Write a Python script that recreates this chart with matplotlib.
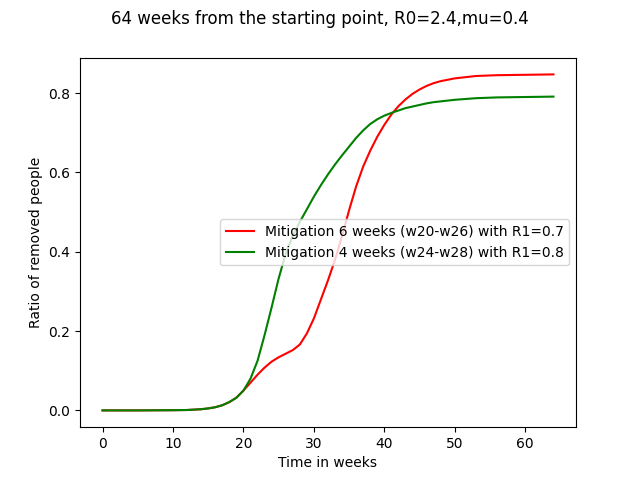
import matplotlib
matplotlib.use('Agg')
import matplotlib.pyplot as plt

weeks = [0, 5, 10, 12, 14, 15, 16, 17, 18, 19, 20, 21, 22, 23, 24, 25, 26, 27, 28, 29,
         30, 31, 32, 33, 34, 35, 36, 37, 38, 39, 40, 41, 42, 43, 44, 45, 46, 47, 48,
         50, 53, 56, 60, 64]

# mitigation w20-w26, R1=0.7
removed_6w = [0.0, 0.0, 0.0005, 0.001, 0.003, 0.005, 0.008, 0.013, 0.021, 0.032,
              0.050, 0.070, 0.090, 0.108, 0.123, 0.134, 0.143, 0.152, 0.166, 0.194,
              0.232, 0.280, 0.328, 0.380, 0.440, 0.505, 0.565, 0.615, 0.655, 0.690,
              0.720, 0.746, 0.767, 0.784, 0.798, 0.809, 0.818, 0.825, 0.830,
              0.837, 0.843, 0.845, 0.846, 0.847]

# mitigation w24-w28, R1=0.8
removed_4w = [0.0, 0.0, 0.0005, 0.001, 0.003, 0.005, 0.008, 0.013, 0.021, 0.032,
              0.050, 0.080, 0.125, 0.190, 0.260, 0.333, 0.395, 0.440, 0.475, 0.507,
              0.539, 0.568, 0.595, 0.620, 0.643, 0.665, 0.687, 0.706, 0.722, 0.734,
              0.743, 0.750, 0.756, 0.762, 0.766, 0.770, 0.774, 0.777, 0.779,
              0.783, 0.787, 0.789, 0.790, 0.791]

fig, ax = plt.subplots(1, 1, figsize=(6.4, 4.8), dpi=100)
fig.suptitle('64 weeks from the starting point, R0=2.4,mu=0.4')
ax.plot(weeks, removed_6w, 'r', label='Mitigation 6 weeks (w20-w26) with R1=0.7')
ax.plot(weeks, removed_4w, 'g', label='Mitigation 4 weeks (w24-w28) with R1=0.8')
ax.set_xlabel('Time in weeks')
ax.set_ylabel('Ratio of removed people')
ax.legend(loc='center right')
plt.savefig('out.png', dpi=100)
